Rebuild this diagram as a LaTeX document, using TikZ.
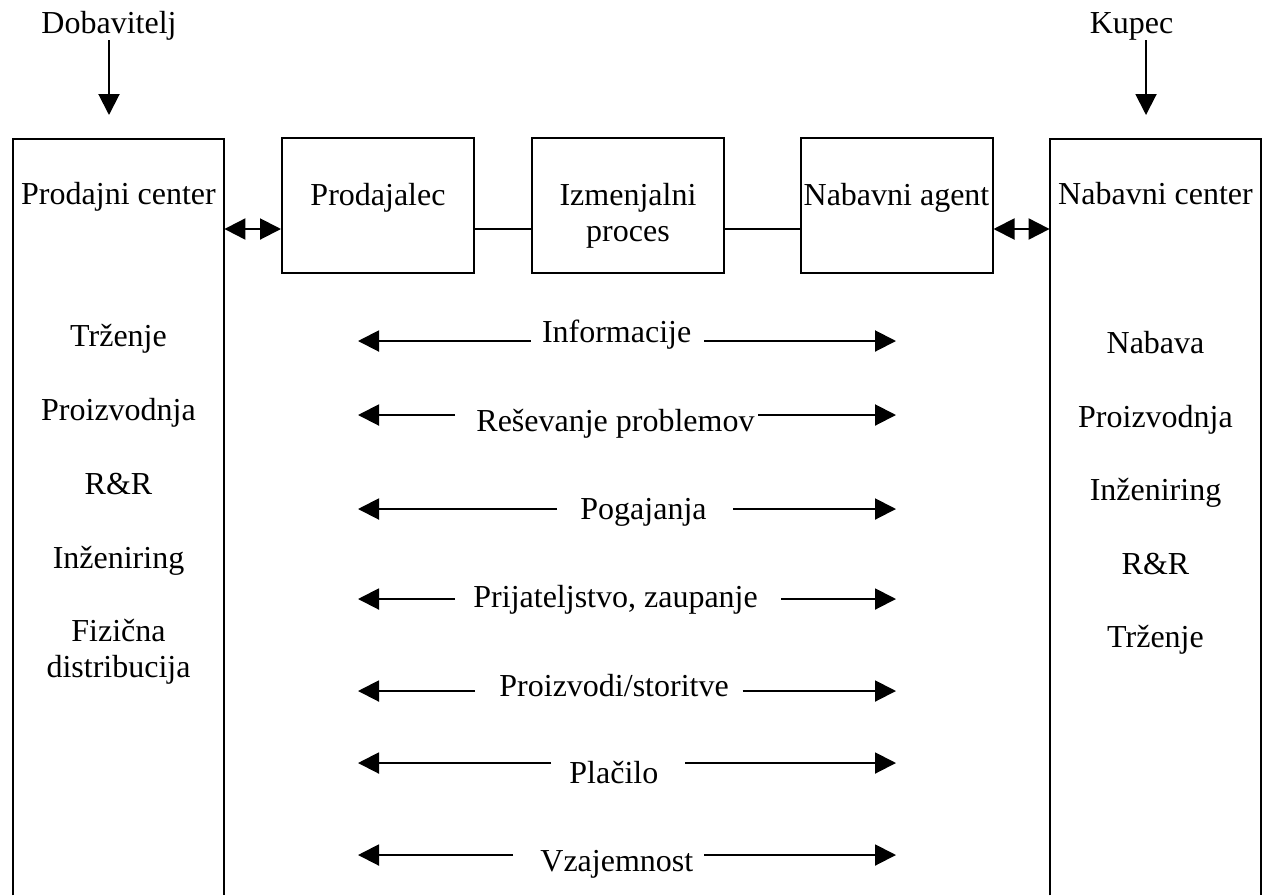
\documentclass[tikz,border=0pt]{standalone}
\usepackage{fontspec}
\setmainfont{Liberation Serif}
\usetikzlibrary{arrows.meta}
\begin{document}
\begin{tikzpicture}[x=0.5pt,y=-0.5pt,
  every node/.style={font=\fontsize{16}{18}\selectfont, inner sep=0pt},
  lbl/.style={anchor=base},
  row/.style={anchor=base west},
  box/.style={draw, line width=1pt, minimum width=96pt, minimum height=67.5pt},
  big/.style={minimum width=105.5pt, minimum height=378pt},
  ln/.style={line width=1pt},
  tip/.style={-{Triangle[length=10.5pt,width=10.5pt]}, line width=1pt},
  dbl/.style={{Triangle[length=10.5pt,width=10.5pt]}-{Triangle[length=10.5pt,width=10.5pt]}, line width=1pt}]
\useasboundingbox (0,0) rectangle (1263,895);

% big boxes (open at bottom)
\node[big] (sell) at (118.5,517) {};
\node[big] (buy) at (1155.5,517) {};
\draw[ln] (sell.south west) -- (sell.north west) -- (sell.north east) -- (sell.south east);
\draw[ln] (buy.south west) -- (buy.north west) -- (buy.north east) -- (buy.south east);

% small boxes
\node[box] (prod) at (378,205.5) {};
\node[box] (izm) at (628,205.5) {};
\node[box] (nab) at (896.5,205.5) {};
\node[lbl] (prodT) at (378,205) {Prodajalec};
\node[lbl] (izmT) at (628,205) {\begin{tabular}[t]{@{}c@{}}Izmenjalni\\proces\end{tabular}};
\node[lbl] (nabT) at (896.5,205) {Nabavni agent};

% connectors between boxes
\coordinate (cy) at (0,229);
\draw[dbl] (sell.east |- cy) -- (prod.west |- cy);
\draw[ln] (prod.east |- cy) -- (izm.west |- cy);
\draw[ln] (izm.east |- cy) -- (nab.west |- cy);
\draw[dbl] (nab.east |- cy) -- (buy.west |- cy);

% top labels
\node[lbl] (dob) at (109,33) {Dobavitelj};
\node[lbl] (kup) at (1131.5,33) {Kupec};
\coordinate (dobtip) at (109,115);
\coordinate (kuptip) at (1146,115);
\draw[tip] (dob.south) -- (dobtip);
\draw[tip] (kuptip |- kup.south) -- (kuptip);

% big box contents
\node[lbl] (sellT) at (118.5,204) {Prodajni center};
\node[lbl] (s1) at (118.5,346.5) {Trženje};
\node[lbl] (s2) at (118.5,420) {Proizvodnja};
\node[lbl] (s3) at (118.5,494) {R\&R};
\node[lbl] (s4) at (118.5,568) {Inženiring};
\node[lbl] (s5) at (118.5,641.5) {\begin{tabular}[t]{@{}c@{}}Fizična\\distribucija\end{tabular}};

\node[lbl] (buyT) at (1155.5,204) {Nabavni center};
\node[lbl] (b1) at (1155.5,353) {Nabava};
\node[lbl] (b2) at (1155.5,427) {Proizvodnja};
\node[lbl] (b3) at (1155.5,500.5) {Inženiring};
\node[lbl] (b4) at (1155.5,574) {R\&R};
\node[lbl] (b5) at (1155.5,647) {Trženje};

% exchange rows
\node[row] (t1) at (541.6,342) {Informacije};
\coordinate (l1) at (358,341); \coordinate (a1) at (530.5,341);
\coordinate (b1e) at (704,341); \coordinate (r1) at (896,341);
\draw[tip] (a1) -- (l1); \draw[tip] (b1e) -- (r1);

\node[row] (t2) at (476,431) {Reševanje problemov};
\coordinate (l2) at (358,415); \coordinate (a2) at (455,415);
\coordinate (b2e) at (758,415); \coordinate (r2) at (896,415);
\draw[tip] (a2) -- (l2); \draw[tip] (b2e) -- (r2);

\node[row] (t3) at (580,519) {Pogajanja};
\coordinate (l3) at (358,509); \coordinate (a3) at (557,509);
\coordinate (b3e) at (733,509); \coordinate (r3) at (896,509);
\draw[tip] (a3) -- (l3); \draw[tip] (b3e) -- (r3);

\node[row] (t4) at (473,607) {Prijateljstvo, zaupanje};
\coordinate (l4) at (358,599); \coordinate (a4) at (455,599);
\coordinate (b4e) at (781,599); \coordinate (r4) at (896,599);
\draw[tip] (a4) -- (l4); \draw[tip] (b4e) -- (r4);

\node[row] (t5) at (499,696) {Proizvodi/storitve};
\coordinate (l5) at (358,691); \coordinate (a5) at (475,691);
\coordinate (b5e) at (742.5,691); \coordinate (r5) at (896,691);
\draw[tip] (a5) -- (l5); \draw[tip] (b5e) -- (r5);

\node[row] (t6) at (569,783) {Plačilo};
\coordinate (l6) at (358,763); \coordinate (a6) at (551,763);
\coordinate (b6e) at (685,763); \coordinate (r6) at (896,763);
\draw[tip] (a6) -- (l6); \draw[tip] (b6e) -- (r6);

\node[row] (t7) at (540,871) {Vzajemnost};
\coordinate (l7) at (358,855); \coordinate (a7) at (513,855);
\coordinate (b7e) at (704,855); \coordinate (r7) at (896,855);
\draw[tip] (a7) -- (l7); \draw[tip] (b7e) -- (r7);
\end{tikzpicture}
\end{document}
